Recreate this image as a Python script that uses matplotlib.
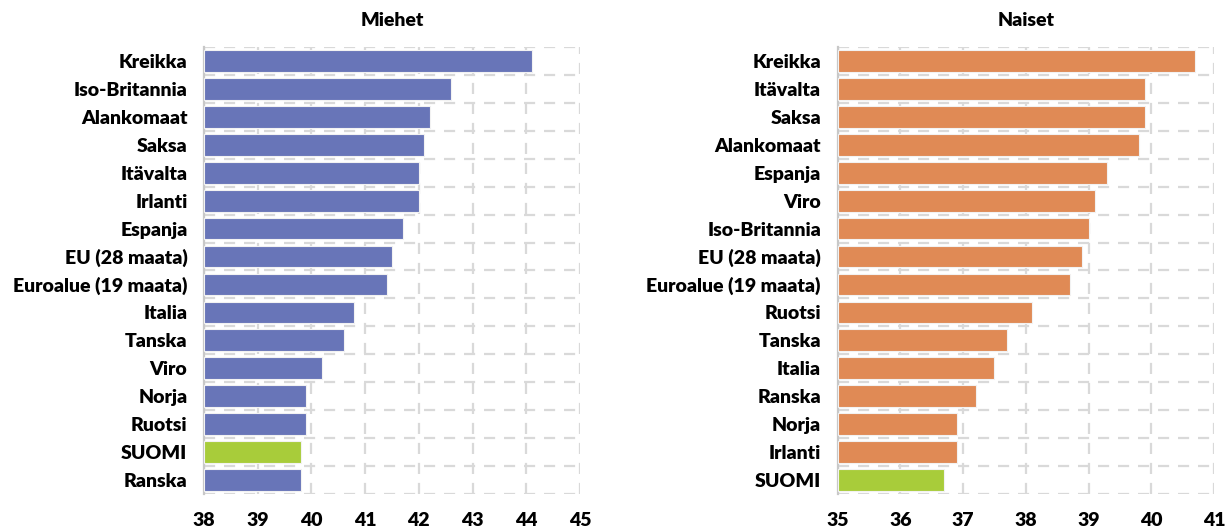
import matplotlib.pyplot as plt
import numpy as np

plt.rcParams['font.family'] = ['Lato', 'DejaVu Sans']

# Miehet
men_labels = ["Kreikka", "Iso-Britannia", "Alankomaat", "Saksa", "Itävalta", "Irlanti",
              "Espanja", "EU (28 maata)", "Euroalue (19 maata)", "Italia", "Tanska",
              "Viro", "Norja", "Ruotsi", "SUOMI", "Ranska"]
men_values = [44.1, 42.6, 42.2, 42.1, 42.0, 42.0, 41.7, 41.5, 41.4, 40.8, 40.6,
              40.2, 39.9, 39.9, 39.8, 39.8]

# Naiset
women_labels = ["Kreikka", "Itävalta", "Saksa", "Alankomaat", "Espanja", "Viro",
                "Iso-Britannia", "EU (28 maata)", "Euroalue (19 maata)", "Ruotsi",
                "Tanska", "Italia", "Ranska", "Norja", "Irlanti", "SUOMI"]
women_values = [40.7, 39.9, 39.9, 39.8, 39.3, 39.1, 39.0, 38.9, 38.7, 38.1,
                37.7, 37.5, 37.2, 36.9, 36.9, 36.7]

BLUE = "#6875B8"
ORANGE = "#E08A55"
GREEN = "#A8CC3A"
GRID = "#D9D9D9"
FS = 14
W = "heavy"


def draw(ax, labels, values, color, xmin, xmax, title):
    y = np.arange(len(labels))
    colors = [GREEN if l == "SUOMI" else color for l in labels]
    ax.barh(y, np.array(values) - xmin, left=xmin, height=0.78, color=colors,
            edgecolor="#F2F2F2", linewidth=0.8, zorder=3)
    ax.set_xlim(xmin, xmax)
    ax.set_ylim(len(labels) - 0.5, -0.5)
    ax.set_yticks(y)
    ax.set_yticklabels(labels, fontsize=FS, fontweight=W)
    ax.set_xticks(range(xmin, xmax + 1))
    ax.set_xticklabels([str(v) for v in range(xmin, xmax + 1)], fontsize=FS, fontweight=W)
    ax.set_yticks(np.arange(-0.5, len(labels), 1.0), minor=True)
    ax.grid(which="major", axis="x", color=GRID, linestyle=(0, (5, 4)), linewidth=1.6, zorder=0)
    ax.grid(which="minor", axis="y", color=GRID, linestyle=(0, (5, 4)), linewidth=1.6, zorder=0)
    ax.tick_params(axis="both", which="both", length=0)
    ax.tick_params(axis="x", pad=13)
    ax.tick_params(axis="y", pad=12)
    for s in ["top", "right", "bottom"]:
        ax.spines[s].set_visible(False)
    ax.spines["left"].set_color("#C8C8C8")
    ax.spines["left"].set_linewidth(1.6)
    ax.set_title(title, fontsize=FS, fontweight=W, pad=15)


fig = plt.figure(figsize=(12.3, 5.28), dpi=100)
ax1 = fig.add_axes([0.1659, 0.0644, 0.3056, 0.8466])
ax2 = fig.add_axes([0.681, 0.0644, 0.306, 0.8466])

draw(ax1, men_labels, men_values, BLUE, 38, 45, "Miehet")
draw(ax2, women_labels, women_values, ORANGE, 35, 41, "Naiset")

plt.savefig("out.png", dpi=100)
